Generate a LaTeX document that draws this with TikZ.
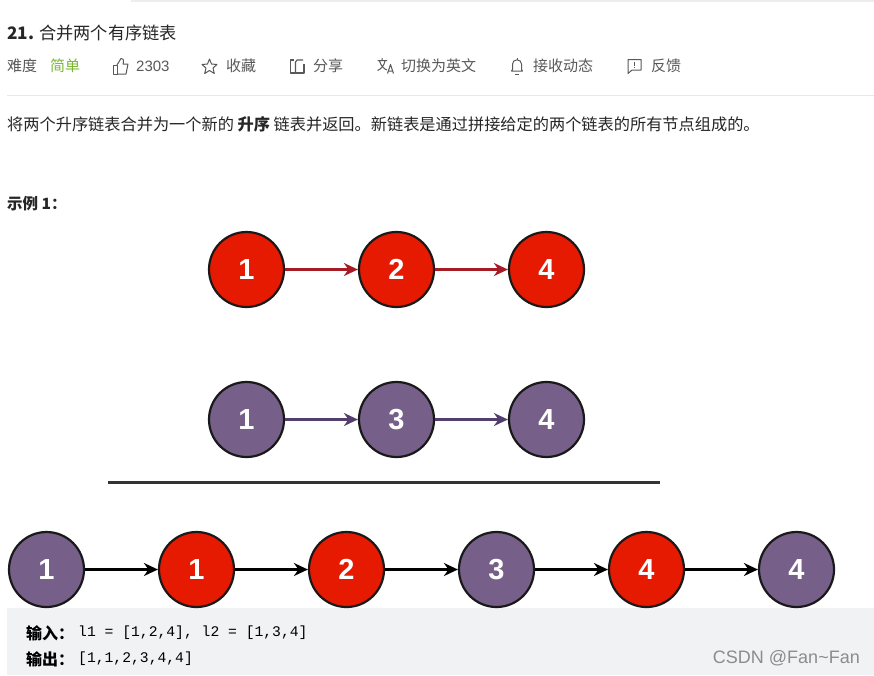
\documentclass[tikz,border=0pt]{standalone}
\usepackage{fontspec}
\setmainfont{Noto Sans CJK SC}
\setsansfont{Liberation Sans}
\setmonofont{Liberation Mono}
\usetikzlibrary{arrows.meta}
\definecolor{nred}{HTML}{E61A00}
\definecolor{npurple}{HTML}{76608A}
\definecolor{icon}{HTML}{595959}
\definecolor{txt}{HTML}{262626}
\definecolor{linkred}{HTML}{A51C24}
\definecolor{linkpurple}{HTML}{533F6B}
\tikzset{
 listnode/.style={circle,draw=black!90,line width=2.2pt,minimum size=75pt,inner sep=0pt,text=white,font=\sffamily\bfseries\fontsize{29}{29}\selectfont},
 rednode/.style={listnode,fill=nred},
 purplenode/.style={listnode,fill=npurple},
 link/.style={line width=2.2pt,-{Stealth[length=14pt,width=13pt]}},
 lbl/.style={anchor=west,inner sep=0pt,text=icon,font=\fontsize{15}{15}\selectfont},
 iconline/.style={draw=icon,line width=1pt,line join=round},
 mono/.style={anchor=west,inner sep=0pt,text=black,font=\ttfamily\fontsize{14.7}{14.7}\selectfont},
 cjklbl/.style={anchor=west,inner sep=0pt,text=black,font=\bfseries\fontsize{16}{16}\selectfont},
}
\begin{document}
\begin{tikzpicture}[x=1pt,y=-1pt]
\useasboundingbox (0,0) rectangle (874,675);
\fill[white] (0,0) rectangle (874,675);
\fill[black!7] (131,0) rectangle (874,1.5);
\node[anchor=west,inner sep=0pt,text=txt,font=\fontsize{17.2}{17.2}\selectfont] (title) at (7,33) {\textbf{21.} 合并两个有序链表};
\node[lbl] (diff) at (7,66) {难度};
\node[lbl,text={rgb,255:red,122;green,183;blue,50}] (easy) at (50,66) {简单};
\node[lbl,font=\sffamily\fontsize{15}{15}\selectfont] (likes) at (136,66) {2303};
\node[lbl] (fav) at (226,66) {收藏};
\node[lbl] (share) at (313,66) {分享};
\node[lbl] (trans) at (401,66) {切换为英文};
\node[lbl] (notify) at (533,66) {接收动态};
\node[lbl] (fb) at (651,66) {反馈};
% thumbs up
\draw[iconline] (113,65) rectangle (117,74);
\draw[iconline] (117,65) -- (121,58.5) .. controls (123,58) and (124,60) .. (123.5,62) -- (123,64) -- (128,64) -- (126,74) -- (117,74);
% star
\draw[iconline] (209.5,59) -- (211.5,64) -- (217,64.5) -- (213,68) -- (214.3,73.5) -- (209.5,70.5) -- (204.7,73.5) -- (206,68) -- (202,64.5) -- (207.5,64) -- cycle;
% share
\draw[iconline,line width=1.1pt] (294,60) -- (290.5,60) -- (290.5,73) -- (304,73) -- (304,64);
\draw[iconline,line width=1.1pt] (295.5,73) -- (295.5,62) -- (297,60) -- (303,60);
% translate
\draw[iconline] (382,58) -- (382,60.5) (377.5,60.5) -- (387,60.5) (379.5,61) .. controls (381,66) and (384,69) .. (387,70) (385,61) .. controls (384,66) and (381,69) .. (377.5,70.5);
\draw[iconline] (387.5,73.5) -- (390.5,64.5) -- (393.5,73.5) (388.5,71) -- (392.5,71);
% bell
\draw[iconline] (511.5,71) -- (512.5,69.5) -- (512.5,64) .. controls (512.5,58.5) and (521.5,58.5) .. (521.5,64) -- (521.5,69.5) -- (522.5,71) -- cycle;
\draw[iconline] (515,74) -- (519,74) (517,58) -- (517,59.5);
% feedback
\draw[iconline] (628,59.5) -- (641,59.5) -- (641,70) -- (632,70) -- (628,73.5) -- cycle;
\draw[icon,line width=1.3pt] (634.5,61.5) -- (634.5,65.5) (634.5,66.8) -- (634.5,68.2);
\fill[black!9] (7,95) rectangle (874,96);
\node[anchor=west,inner sep=0pt,text=txt,font=\fontsize{16.2}{16.2}\selectfont] (desc) at (7,124.5) {将两个升序链表合并为一个新的 \textbf{升序} 链表并返回。新链表是通过拼接给定的两个链表的所有节点组成的。};
\node[anchor=west,inner sep=0pt,text=txt,font=\bfseries\fontsize{15.5}{15.5}\selectfont] (ex) at (7,203.5) {示例 1：};
% row 1
\node[rednode] (a1) at (246.5,269.5) {1};
\node[rednode] (a2) at (396.5,269.5) {2};
\node[rednode] (a3) at (546.5,269.5) {4};
\draw[link,linkred] (a1) -- (a2);
\draw[link,linkred] (a2) -- (a3);
% row 2
\node[purplenode] (b1) at (246.5,419.5) {1};
\node[purplenode] (b2) at (396.5,419.5) {3};
\node[purplenode] (b3) at (546.5,419.5) {4};
\draw[link,linkpurple] (b1) -- (b2);
\draw[link,linkpurple] (b2) -- (b3);
% rule
\coordinate (r1) at (108,482);
\coordinate (r2) at (660,482);
\draw[line width=3pt,black!80] (r1) -- (r2);
% row 3
\fill[fill={rgb,255:red,241;green,242;blue,244}] (7,608) rectangle (874,675);
\node[purplenode] (c1) at (46.5,569.5) {1};
\node[rednode] (c2) at (196.5,569.5) {1};
\node[rednode] (c3) at (346.5,569.5) {2};
\node[purplenode] (c4) at (496.5,569.5) {3};
\node[rednode] (c5) at (646.5,569.5) {4};
\node[purplenode] (c6) at (796.5,569.5) {4};
\draw[link,black] (c1) -- (c2);
\draw[link,black] (c2) -- (c3);
\draw[link,black] (c3) -- (c4);
\draw[link,black] (c4) -- (c5);
\draw[link,black] (c5) -- (c6);
% code
\node[cjklbl] (inlab) at (26,633) {输入：};
\node[mono] (incode) at (78,633) {l1 = [1,2,4], l2 = [1,3,4]};
\node[cjklbl] (outlab) at (26,659) {输出：};
\node[mono] (outcode) at (78,659) {[1,1,2,3,4,4]};
\node[anchor=east,inner sep=0pt,text=black!45,font=\sffamily\fontsize{18}{18}\selectfont] (mark) at (860,658) {CSDN @Fan\textasciitilde Fan};
\end{tikzpicture}
\end{document}
